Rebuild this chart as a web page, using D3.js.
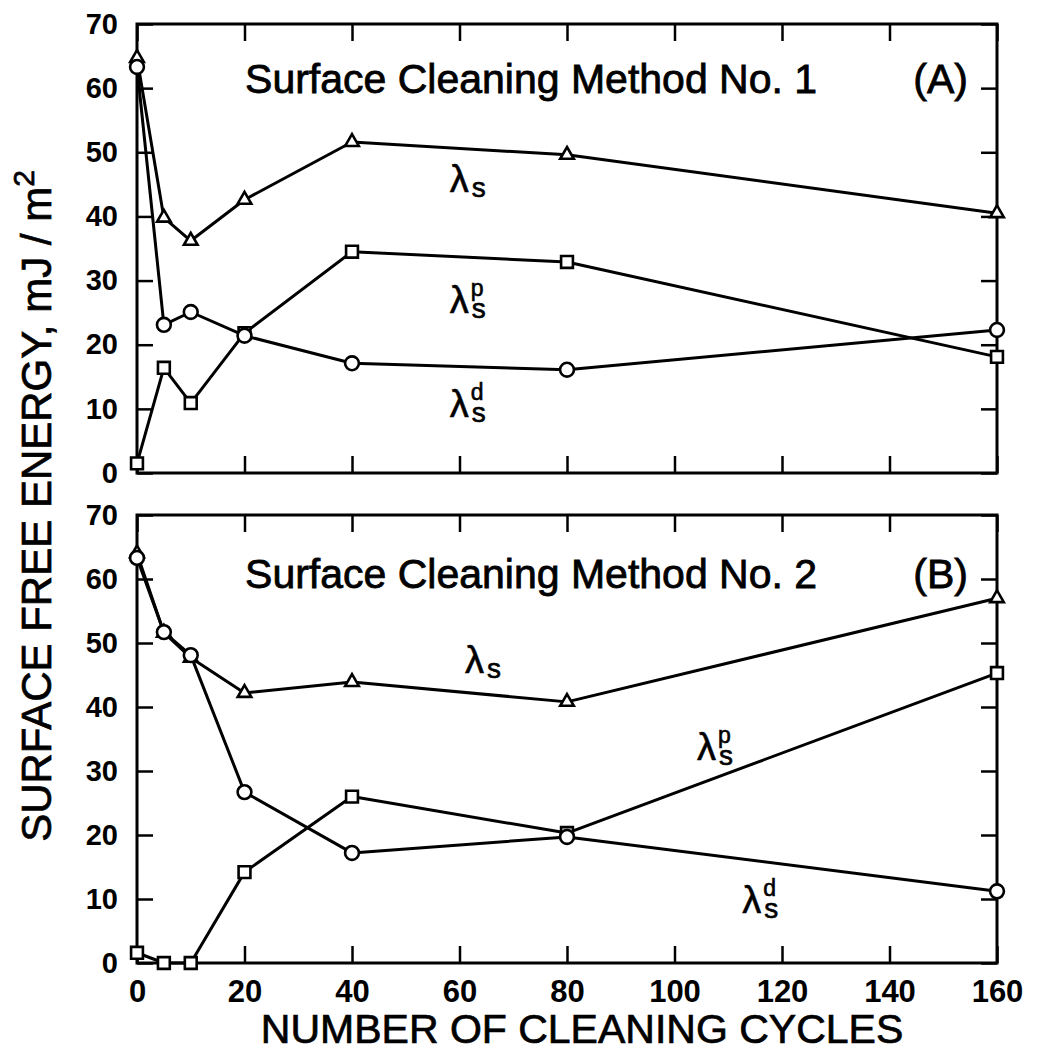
<!DOCTYPE html>
<html>
<head>
<meta charset="utf-8">
<script src="https://cdn.jsdelivr.net/npm/d3@7"></script>
<style>
  body { margin: 0; background: #fff; }
  text { font-family: "Liberation Sans", Arial, Helvetica, sans-serif; fill: #000; }
</style>
</head>
<body>
<div id="chart"></div>
<script>
// cycles at which the surface energy was measured
const cycles = [0, 5, 10, 20, 40, 80, 160];
const xTicks = [0, 20, 40, 60, 80, 100, 120, 140, 160];
const yTicks = [0, 10, 20, 30, 40, 50, 60, 70];

// Method No. 1 (A)
const totalA = [64.7, 39.8, 36.2, 42.6, 51.6, 49.6, 40.5];
const polarA = [1.5, 16.4, 10.9, 21.8, 34.5, 32.9, 18.1];
const dispA  = [63.3, 23.1, 25.1, 21.4, 17.1, 16.1, 22.3];

// Method No. 2 (B)
const totalB = [64.0, 51.6, 47.7, 42.2, 43.9, 40.8, 57.0];
const polarB = [1.6, 0, 0, 14.2, 26.0, 20.3, 45.3];
const dispB  = [63.3, 51.7, 48.1, 26.7, 17.2, 19.7, 11.2];

const width = 1048, height = 1053;
const left = 137, right = 997;

const svg = d3.select("#chart")
  .append("svg")
  .attr("width", width)
  .attr("height", height);

const x = d3.scaleLinear().domain([0, 160]).range([left, right]);

const panels = [
  {top: 24, bottom: 473, title: "Surface Cleaning Method No. 1", tag: "(A)",
   series: [totalA, polarA, dispA], xLabels: false,
   labels: [{x: 58.2, y: 43.8, sup: null}, {x: 58.2, y: 24.9, sup: "p"}, {x: 58.2, y: 8.7, sup: "d"}],
   titleY: 59.2},
  {top: 515, bottom: 963, title: "Surface Cleaning Method No. 2", tag: "(B)",
   series: [totalB, polarB, dispB], xLabels: true,
   labels: [{x: 61.0, y: 45.3, sup: null}, {x: 104.2, y: 31.7, sup: "p"}, {x: 112.6, y: 7.8, sup: "d"}],
   titleY: 58.6}
];

const symbols = [
  d3.symbol().type(d3.symbolTriangle).size(80),
  d3.symbol().type(d3.symbolSquare).size(140),
  d3.symbol().type(d3.symbolCircle).size(150)
];

panels.forEach(p => {
  const y = d3.scaleLinear().domain([0, 70]).range([p.bottom, p.top]);
  const g = svg.append("g");

  // ticks (inward)
  const styleAxis = sel => {
    sel.select(".domain").remove();
    sel.selectAll(".tick line").attr("stroke", "#000").attr("stroke-width", 2.5);
  };
  g.append("g")
    .attr("transform", `translate(${left},0)`)
    .call(d3.axisLeft(y).tickValues(yTicks).tickSize(-16).tickPadding(19))
    .call(styleAxis)
    .selectAll("text")
    .style("font-size", "29px").style("font-weight", "bold");
  g.append("g")
    .attr("transform", `translate(${right},0)`)
    .call(d3.axisRight(y).tickValues(yTicks).tickSize(-16).tickFormat(""))
    .call(styleAxis);
  g.append("g")
    .attr("transform", `translate(0,${p.top})`)
    .call(d3.axisTop(x).tickValues(xTicks).tickSize(-17).tickFormat(""))
    .call(styleAxis);
  const bottomAxis = g.append("g")
    .attr("transform", `translate(0,${p.bottom})`)
    .call(d3.axisBottom(x).tickValues(xTicks).tickSize(-17).tickPadding(17)
      .tickFormat(p.xLabels ? d3.format("d") : ""))
    .call(styleAxis);
  bottomAxis.selectAll("text")
    .style("font-size", "31px").style("font-weight", "bold");
  g.selectAll(".tick text").attr("fill", "#000");

  // frame
  g.append("rect")
    .attr("x", left).attr("y", p.top)
    .attr("width", right - left).attr("height", p.bottom - p.top)
    .attr("fill", "none").attr("stroke", "#000").attr("stroke-width", 3);

  // title and tag
  g.append("text")
    .attr("x", x(20.1)).attr("y", y(p.titleY))
    .style("font-size", "41px")
    .attr("stroke", "#000").attr("stroke-width", 0.8)
    .text(p.title);
  g.append("text")
    .attr("x", x(154.6)).attr("y", y(p.titleY))
    .attr("text-anchor", "end")
    .style("font-size", "41px")
    .attr("stroke", "#000").attr("stroke-width", 0.8)
    .text(p.tag);

  const line = d3.line()
    .x((d, i) => x(cycles[i]))
    .y(d => y(d));

  p.series.forEach(vals => {
    g.append("path")
      .datum(vals)
      .attr("fill", "none")
      .attr("stroke", "#000")
      .attr("stroke-width", 3)
      .attr("stroke-linejoin", "round")
      .attr("d", line);
  });

  p.series.forEach((vals, k) => {
    g.selectAll(null)
      .data(vals)
      .join("path")
      .attr("transform", (d, i) => `translate(${x(cycles[i])},${y(d)})`)
      .attr("d", symbols[k]())
      .attr("fill", "#fff")
      .attr("stroke", "#000")
      .attr("stroke-width", 2.6);
  });

  // lambda labels, one text each with sub/superscript tspans
  p.labels.forEach(l => {
    const lx = x(l.x), ly = y(l.y);
    const t = g.append("text")
      .attr("x", lx).attr("y", ly)
      .attr("stroke", "#000").attr("stroke-width", 0.6);
    t.append("tspan").style("font-size", "38px").text("λ");
    if (l.sup) {
      t.append("tspan").attr("x", lx + 21).attr("y", ly - 17)
        .style("font-size", "23px").text(l.sup);
    }
    t.append("tspan").attr("x", lx + 22).attr("y", ly + 5)
      .style("font-size", "28px").text("s");
  });
});

// axis titles
svg.append("text")
  .attr("x", x(82.8)).attr("y", 1043)
  .attr("text-anchor", "middle")
  .style("font-size", "41px")
  .attr("stroke", "#000").attr("stroke-width", 0.7)
  .text("NUMBER OF CLEANING CYCLES");

const yTitle = svg.append("text")
  .attr("transform", "translate(51,506) rotate(-90)")
  .attr("text-anchor", "middle")
  .style("font-size", "42px")
  .attr("stroke", "#000").attr("stroke-width", 0.7);
yTitle.append("tspan").text("SURFACE FREE ENERGY, mJ / m");
yTitle.append("tspan").attr("dy", -17).style("font-size", "30px").text("2");
</script>
</body>
</html>
